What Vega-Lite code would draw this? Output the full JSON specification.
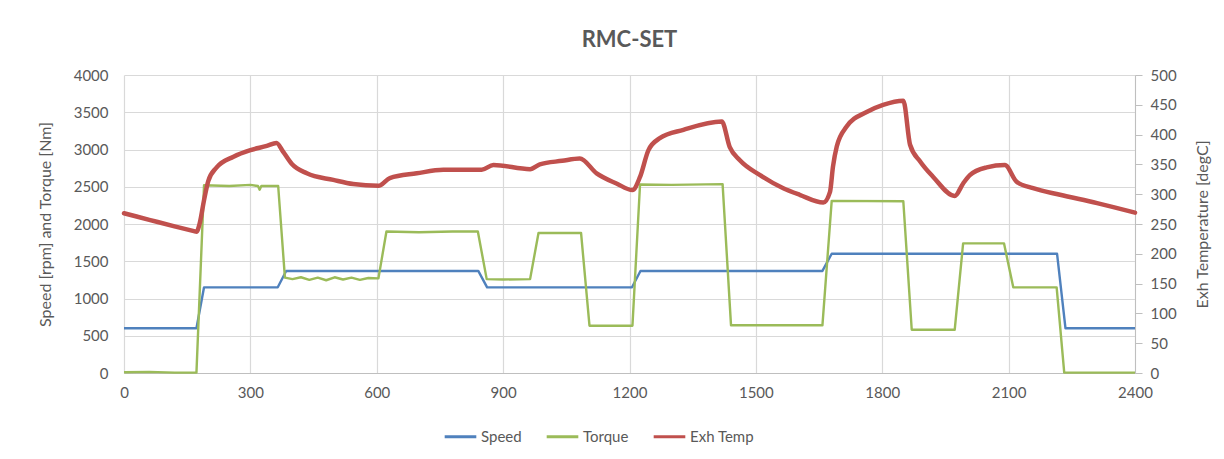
{
  "$schema": "https://vega.github.io/schema/vega-lite/v6.json",
  "width": 1011,
  "height": 298,
  "autosize": {"type": "none"},
  "padding": {"left": 124, "top": 75, "right": 89, "bottom": 86},
  "background": "white",
  "title": {"text": "RMC-SET", "fontSize": 22, "font": "Lato", "fontWeight": "bold", "color": "#595959", "offset": 16, "anchor": "middle"},
  "config": {
    "view": {"stroke": null},
    "font": "Lato",
    "axis": {
      "labelFont": "Lato", "labelFontSize": 15, "labelColor": "#595959", "format": "d",
      "titleFont": "Lato", "titleFontSize": 16, "titleFontWeight": "normal", "titleColor": "#595959",
      "gridColor": "#D9D9D9", "gridWidth": 1.2, "domainColor": "#BFBFBF", "tickColor": "#BFBFBF"
    },
    "legend": {"labelFont": "Lato", "labelFontSize": 15, "labelColor": "#595959"}
  },
  "datasets": {
    "st": [
      {"t": 0, "series": "Speed", "v": 600},
      {"t": 172, "series": "Speed", "v": 600},
      {"t": 190, "series": "Speed", "v": 1150},
      {"t": 365, "series": "Speed", "v": 1150},
      {"t": 385, "series": "Speed", "v": 1370},
      {"t": 841, "series": "Speed", "v": 1370},
      {"t": 862, "series": "Speed", "v": 1150},
      {"t": 1206, "series": "Speed", "v": 1150},
      {"t": 1226, "series": "Speed", "v": 1370},
      {"t": 1658, "series": "Speed", "v": 1370},
      {"t": 1680, "series": "Speed", "v": 1600},
      {"t": 2215, "series": "Speed", "v": 1600},
      {"t": 2235, "series": "Speed", "v": 600},
      {"t": 2400, "series": "Speed", "v": 600},
      {"t": 0, "series": "Torque", "v": 10},
      {"t": 60, "series": "Torque", "v": 15},
      {"t": 120, "series": "Torque", "v": 5},
      {"t": 172, "series": "Torque", "v": 5},
      {"t": 190, "series": "Torque", "v": 2520},
      {"t": 250, "series": "Torque", "v": 2510},
      {"t": 300, "series": "Torque", "v": 2525},
      {"t": 318, "series": "Torque", "v": 2510},
      {"t": 322, "series": "Torque", "v": 2460},
      {"t": 326, "series": "Torque", "v": 2510},
      {"t": 366, "series": "Torque", "v": 2510},
      {"t": 382, "series": "Torque", "v": 1280},
      {"t": 400, "series": "Torque", "v": 1260},
      {"t": 420, "series": "Torque", "v": 1285},
      {"t": 440, "series": "Torque", "v": 1250},
      {"t": 460, "series": "Torque", "v": 1280},
      {"t": 480, "series": "Torque", "v": 1245},
      {"t": 500, "series": "Torque", "v": 1285},
      {"t": 520, "series": "Torque", "v": 1255},
      {"t": 540, "series": "Torque", "v": 1280},
      {"t": 560, "series": "Torque", "v": 1250},
      {"t": 580, "series": "Torque", "v": 1275},
      {"t": 604, "series": "Torque", "v": 1270},
      {"t": 623, "series": "Torque", "v": 1900},
      {"t": 700, "series": "Torque", "v": 1890},
      {"t": 780, "series": "Torque", "v": 1900},
      {"t": 840, "series": "Torque", "v": 1900},
      {"t": 861, "series": "Torque", "v": 1260},
      {"t": 900, "series": "Torque", "v": 1255},
      {"t": 964, "series": "Torque", "v": 1260},
      {"t": 984, "series": "Torque", "v": 1880},
      {"t": 1085, "series": "Torque", "v": 1880},
      {"t": 1105, "series": "Torque", "v": 635},
      {"t": 1207, "series": "Torque", "v": 635},
      {"t": 1225, "series": "Torque", "v": 2530},
      {"t": 1300, "series": "Torque", "v": 2525},
      {"t": 1421, "series": "Torque", "v": 2535},
      {"t": 1441, "series": "Torque", "v": 640},
      {"t": 1550, "series": "Torque", "v": 640},
      {"t": 1658, "series": "Torque", "v": 640},
      {"t": 1680, "series": "Torque", "v": 2310},
      {"t": 1850, "series": "Torque", "v": 2305},
      {"t": 1870, "series": "Torque", "v": 580},
      {"t": 1972, "series": "Torque", "v": 580},
      {"t": 1992, "series": "Torque", "v": 1740},
      {"t": 2089, "series": "Torque", "v": 1740},
      {"t": 2111, "series": "Torque", "v": 1150},
      {"t": 2214, "series": "Torque", "v": 1150},
      {"t": 2232, "series": "Torque", "v": 5},
      {"t": 2400, "series": "Torque", "v": 5}
    ],
    "temp": [
      {"t": 0, "series": "Exh Temp", "v": 268},
      {"t": 60, "series": "Exh Temp", "v": 257},
      {"t": 120, "series": "Exh Temp", "v": 246},
      {"t": 166, "series": "Exh Temp", "v": 238},
      {"t": 172, "series": "Exh Temp", "v": 237},
      {"t": 180, "series": "Exh Temp", "v": 252},
      {"t": 190, "series": "Exh Temp", "v": 290},
      {"t": 200, "series": "Exh Temp", "v": 322},
      {"t": 220, "series": "Exh Temp", "v": 345},
      {"t": 260, "series": "Exh Temp", "v": 363},
      {"t": 300, "series": "Exh Temp", "v": 374},
      {"t": 339, "series": "Exh Temp", "v": 381},
      {"t": 362, "series": "Exh Temp", "v": 386},
      {"t": 378, "series": "Exh Temp", "v": 371},
      {"t": 398, "series": "Exh Temp", "v": 351},
      {"t": 434, "series": "Exh Temp", "v": 335},
      {"t": 497, "series": "Exh Temp", "v": 324},
      {"t": 544, "series": "Exh Temp", "v": 317},
      {"t": 604, "series": "Exh Temp", "v": 314},
      {"t": 631, "series": "Exh Temp", "v": 327},
      {"t": 695, "series": "Exh Temp", "v": 335},
      {"t": 758, "series": "Exh Temp", "v": 341},
      {"t": 849, "series": "Exh Temp", "v": 341},
      {"t": 877, "series": "Exh Temp", "v": 349},
      {"t": 964, "series": "Exh Temp", "v": 342},
      {"t": 987, "series": "Exh Temp", "v": 350},
      {"t": 1040, "series": "Exh Temp", "v": 356},
      {"t": 1082, "series": "Exh Temp", "v": 360},
      {"t": 1122, "series": "Exh Temp", "v": 335},
      {"t": 1169, "series": "Exh Temp", "v": 318},
      {"t": 1207, "series": "Exh Temp", "v": 307},
      {"t": 1225, "series": "Exh Temp", "v": 329},
      {"t": 1245, "series": "Exh Temp", "v": 374},
      {"t": 1272, "series": "Exh Temp", "v": 394},
      {"t": 1328, "series": "Exh Temp", "v": 408},
      {"t": 1419, "series": "Exh Temp", "v": 422},
      {"t": 1438, "series": "Exh Temp", "v": 379},
      {"t": 1462, "series": "Exh Temp", "v": 357},
      {"t": 1510, "series": "Exh Temp", "v": 332},
      {"t": 1565, "series": "Exh Temp", "v": 310},
      {"t": 1604, "series": "Exh Temp", "v": 299},
      {"t": 1660, "series": "Exh Temp", "v": 286},
      {"t": 1676, "series": "Exh Temp", "v": 304},
      {"t": 1683, "series": "Exh Temp", "v": 346},
      {"t": 1692, "series": "Exh Temp", "v": 380},
      {"t": 1715, "series": "Exh Temp", "v": 413},
      {"t": 1763, "series": "Exh Temp", "v": 438},
      {"t": 1802, "series": "Exh Temp", "v": 450},
      {"t": 1850, "series": "Exh Temp", "v": 457},
      {"t": 1866, "series": "Exh Temp", "v": 383},
      {"t": 1890, "series": "Exh Temp", "v": 355},
      {"t": 1921, "series": "Exh Temp", "v": 329},
      {"t": 1972, "series": "Exh Temp", "v": 297},
      {"t": 1992, "series": "Exh Temp", "v": 318},
      {"t": 2008, "series": "Exh Temp", "v": 332},
      {"t": 2048, "series": "Exh Temp", "v": 345},
      {"t": 2091, "series": "Exh Temp", "v": 349},
      {"t": 2119, "series": "Exh Temp", "v": 321},
      {"t": 2158, "series": "Exh Temp", "v": 310},
      {"t": 2222, "series": "Exh Temp", "v": 299},
      {"t": 2310, "series": "Exh Temp", "v": 285},
      {"t": 2400, "series": "Exh Temp", "v": 269}
    ]
  },
  "layer": [
    {
      "data": {"name": "st"},
      "mark": {"type": "line", "strokeJoin": "round", "strokeWidth": 2.4},
      "encoding": {
        "x": {"field": "t", "type": "quantitative", "scale": {"domain": [0, 2400], "nice": false},
              "axis": {"title": null, "values": [0, 300, 600, 900, 1200, 1500, 1800, 2100, 2400], "ticks": false, "labelPadding": 12, "labelFlush": false, "domain": true, "grid": true}},
        "y": {"field": "v", "type": "quantitative", "scale": {"domain": [0, 4000], "nice": false},
              "axis": {"title": "Speed [rpm] and Torque [Nm]", "values": [0, 500, 1000, 1500, 2000, 2500, 3000, 3500, 4000], "ticks": false, "domain": false, "labelPadding": 16, "titlePadding": 20, "grid": true}},
        "color": {"field": "series", "type": "nominal",
                  "scale": {"domain": ["Speed", "Torque", "Exh Temp"], "range": ["#4F81BD", "#9BBB59", "#C0504D"]},
                  "legend": {"title": null, "orient": "none", "legendX": 319, "legendY": 344, "direction": "horizontal", "symbolType": "stroke", "symbolSize": 1000, "symbolStrokeWidth": 3, "columnPadding": 18, "labelOffset": 3}}
      }
    },
    {
      "data": {"name": "temp"},
      "mark": {"type": "line", "strokeJoin": "round", "strokeCap": "round", "strokeWidth": 4.5, "interpolate": "monotone"},
      "encoding": {
        "x": {"field": "t", "type": "quantitative"},
        "y": {"field": "v", "type": "quantitative", "scale": {"domain": [0, 500], "nice": false},
              "axis": {"orient": "right", "title": "Exh Temperature [degC]", "titleAngle": 270, "titleBaseline": "top", "values": [0, 50, 100, 150, 200, 250, 300, 350, 400, 450, 500], "ticks": true, "tickSize": 7, "domain": true, "labelPadding": 8, "titlePadding": 18, "grid": false}},
        "color": {"field": "series", "type": "nominal"}
      }
    }
  ],
  "resolve": {"scale": {"y": "independent"}}
}
